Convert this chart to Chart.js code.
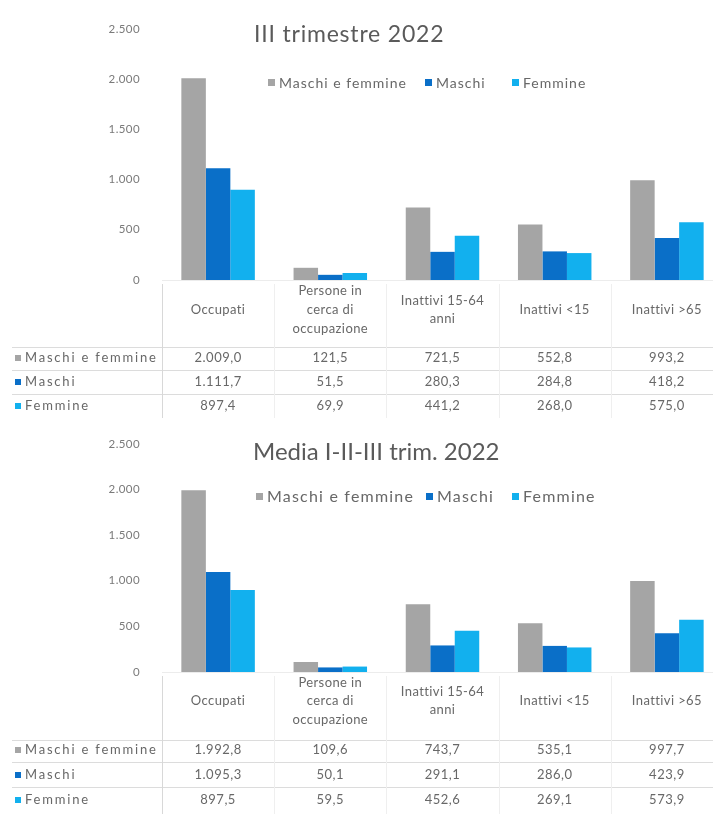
<!DOCTYPE html>
<html lang="it">
<head>
<meta charset="utf-8">
<title>Popolazione per condizione professionale - 2022</title>
<script src="https://cdn.jsdelivr.net/npm/chart.js@4.4.0/dist/chart.umd.min.js"></script>
<style>
    html, body { margin: 0; padding: 0; background: #fff; }
    #page { position: relative; width: 713px; height: 814px; overflow: hidden; }
    canvas { position: absolute; left: 0; }
</style>
</head>
<body>
<div id="page">
    <canvas id="trim3" width="724" height="418" style="top:0"></canvas>
    <canvas id="media" width="724" height="399" style="top:415px"></canvas>
</div>
<script>
// Categorie (etichette asse X, anche su più righe)
const categorie = [
    'Occupati',
    ['Persone in', 'cerca di', 'occupazione'],
    ['Inattivi 15-64', 'anni'],
    'Inattivi <15',
    'Inattivi >65'
];
const serie = ['Maschi e femmine', 'Maschi', 'Femmine'];
const colori = ['#a5a5a5', '#0a6fc8', '#12b0ee'];
const tickY = [0, 500, 1000, 1500, 2000, 2500];

// III trimestre 2022 (migliaia)
const trim3Totale  = [2009.0, 121.5, 721.5, 552.8, 993.2];
const trim3Maschi  = [1111.7, 51.5, 280.3, 284.8, 418.2];
const trim3Femmine = [897.4, 69.9, 441.2, 268.0, 575.0];

// Media I-II-III trim. 2022 (migliaia)
const mediaTotale  = [1992.8, 109.6, 743.7, 535.1, 997.7];
const mediaMaschi  = [1095.3, 50.1, 291.1, 286.0, 423.9];
const mediaFemmine = [897.5, 59.5, 452.6, 269.1, 573.9];

const FONT = 'Lato, "Open Sans", sans-serif';
const TESTO = '#686868';

// 2500 -> "2.500"
function fmtMigliaia(v) {
    return String(v).replace(/\B(?=(\d{3})+(?!\d))/g, '.');
}
// 2009 -> "2.009,0"
function fmtValore(v) {
    const [int, dec] = v.toFixed(1).split('.');
    return fmtMigliaia(int) + ',' + dec;
}

/**
 * Plugin: titolo, legenda e tabella dati (stile Excel)
 */
const tabellaPlugin = {
    id: 'tabella',
    beforeDraw(chart, args, opts) {
        // le etichette dell'asse X sono un po' spaziate come nell'originale
        chart.ctx.letterSpacing = opts.tickSpacing;
    },
    afterDraw(chart, args, opts) {
        const ctx = chart.ctx;
        const x = chart.scales.x;
        const area = chart.chartArea;
        const rows = chart.data.datasets;
        ctx.save();

        // titolo
        ctx.letterSpacing = opts.titleSpacing;
        ctx.fillStyle = '#5a5a5a';
        ctx.font = `${opts.titleSize}px ${FONT}`;
        ctx.textBaseline = 'middle';
        ctx.textAlign = 'left';
        ctx.fillText(opts.title, opts.titleX, opts.titleY);

        // legenda
        ctx.letterSpacing = opts.legendSpacing;
        ctx.font = `${opts.legendSize}px ${FONT}`;
        rows.forEach((ds, i) => {
            const lx = opts.legendX[i];
            ctx.fillStyle = ds.backgroundColor;
            ctx.fillRect(lx, opts.legendY - 4, 7, 7);
            ctx.fillStyle = TESTO;
            ctx.fillText(ds.label, lx + 11, opts.legendY);
        });

        // griglia tabella
        const n = chart.data.labels.length;
        const step = x.getPixelForValue(1) - x.getPixelForValue(0);
        const bottom = opts.lineY[0] + opts.rowH * rows.length;
        ctx.lineWidth = 1;
        ctx.strokeStyle = '#dcdcdc';
        opts.lineY.forEach(ly => {
            ctx.beginPath();
            ctx.moveTo(12, ly + 0.5);
            ctx.lineTo(chart.width, ly + 0.5);
            ctx.stroke();
        });
        for (let i = 0; i <= n; i++) {
            const vx = Math.round(x.getPixelForValue(i) - step / 2) + 0.5;
            ctx.strokeStyle = i === 0 ? '#d8d8d8' : '#efefef';
            ctx.beginPath();
            ctx.moveTo(vx, area.bottom + 4);
            ctx.lineTo(vx, bottom);
            ctx.stroke();
        }

        // righe della tabella
        rows.forEach((ds, r) => {
            const ry = opts.rowY[r];
            ctx.fillStyle = ds.backgroundColor;
            ctx.fillRect(15, ry - 3, 6, 6);
            ctx.fillStyle = TESTO;
            ctx.textAlign = 'left';
            ctx.letterSpacing = opts.rowSpacing;
            ctx.font = `${opts.rowSize}px ${FONT}`;
            ctx.fillText(ds.label, 25, ry);
            ctx.textAlign = 'center';
            ctx.letterSpacing = opts.cellSpacing;
            ctx.font = `${opts.cellSize}px ${FONT}`;
            ds.data.forEach((v, i) => {
                ctx.fillText(fmtValore(v), x.getPixelForValue(i), ry);
            });
        });
        ctx.restore();
    }
};

function creaGrafico(id, valori, layout) {
    return new Chart(document.getElementById(id), {
        type: 'bar',
        data: {
            labels: categorie,
            datasets: serie.map((nome, i) => ({
                label: nome,
                data: valori[i],
                backgroundColor: colori[i],
                borderWidth: 0,
                barPercentage: 1,
                categoryPercentage: 0.655
            }))
        },
        options: {
            responsive: false,
            animation: false,
            layout: { padding: { top: layout.top, right: 1, bottom: layout.bottom, left: 0 } },
            plugins: {
                legend: { display: false },
                title: { display: false },
                tooltip: { enabled: false },
                tabella: layout
            },
            scales: {
                x: {
                    grid: { display: false },
                    border: { display: true, color: '#ececec' },
                    ticks: {
                        color: TESTO,
                        font: { family: FONT, size: 13, lineHeight: layout.tickLine },
                        maxRotation: 0,
                        autoSkip: false,
                        crossAlign: 'center'
                    },
                    afterFit: s => { s.height = layout.axisH; }
                },
                y: {
                    min: 0,
                    max: 2500,
                    afterBuildTicks: s => { s.ticks = tickY.map(v => ({ value: v })); },
                    grid: { display: false, drawTicks: false },
                    border: { display: false },
                    ticks: {
                        color: '#7a7a7a',
                        padding: 22,
                        font: { family: FONT, size: 11.5 },
                        callback: v => fmtMigliaia(v)
                    },
                    afterFit: s => { s.width = 162; }
                }
            }
        },
        plugins: [tabellaPlugin]
    });
}

creaGrafico('trim3', [trim3Totale, trim3Maschi, trim3Femmine], {
    top: 23, bottom: 418 - 347, axisH: 67, tickLine: 1.45, tickSpacing: '0.4px',
    title: 'III trimestre 2022', titleSize: 23, titleSpacing: '0.8px', titleX: 254, titleY: 35,
    legendSize: 14, legendSpacing: '1px', legendX: [268, 425, 512], legendY: 83,
    rowSize: 13, rowSpacing: '1.8px', cellSize: 13, cellSpacing: '0.5px',
    rowH: 24, lineY: [347, 370, 394], rowY: [358, 382, 406]
});

creaGrafico('media', [mediaTotale, mediaMaschi, mediaFemmine], {
    top: 22, bottom: 399 - 325, axisH: 68, tickLine: 1.4, tickSpacing: '0.4px',
    title: 'Media I-II-III trim. 2022', titleSize: 24, titleSpacing: '0px', titleX: 253, titleY: 37,
    legendSize: 16, legendSpacing: '1.2px', legendX: [256, 426, 512], legendY: 82,
    rowSize: 13, rowSpacing: '1.8px', cellSize: 13, cellSpacing: '0.5px',
    rowH: 25, lineY: [325, 347, 372], rowY: [335, 360, 385]
});
</script>
</body>
</html>
